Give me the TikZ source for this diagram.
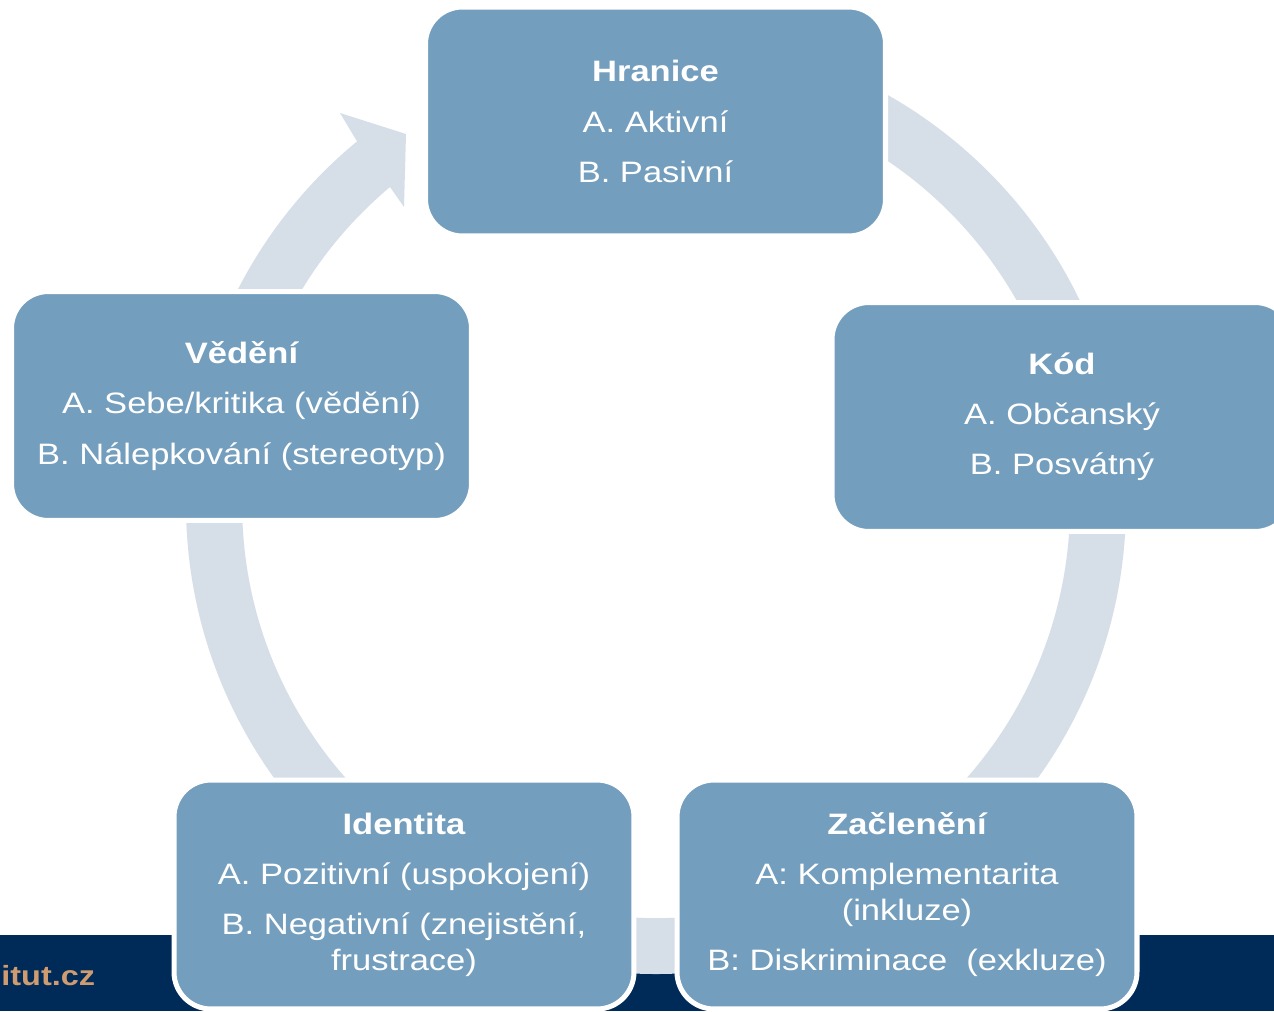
\documentclass[tikz,border=0pt]{standalone}
\usepackage{fontspec}
\setmainfont{Liberation Sans}[FakeStretch=1.17]

\definecolor{boxblue}{RGB}{116,158,189}
\definecolor{ringgrey}{RGB}{214,223,232}
\definecolor{navy}{RGB}{0,42,88}
\definecolor{urltan}{RGB}{206,156,112}

\begin{document}
\begin{tikzpicture}[x=0.02cm, y=-0.02cm]

  \tikzstyle{stage}=[rounded corners=21pt, fill=boxblue, draw=white, line width=2.85pt,
    text=white, align=center, inner sep=0pt, minimum width=261.8pt, minimum height=130.3pt,
    font=\fontsize{16.8}{20.5}\selectfont]
  \edef\gap{8pt}

  \fill[white] (0,0) rectangle (1274,1011);
  \useasboundingbox (0,0) rectangle (1274,1011);

  % footer band
  \fill[navy] (0,935) rectangle (1274,1011);
  \node[anchor=west, inner sep=0pt, text=urltan, font=\bfseries\fontsize{15.8}{18}\selectfont] (url) at (1,976) {itut.cz};

  % cycle ring with arrow head
  \coordinate (ctr) at (656,504);
  \pgfmathsetmacro{\rout}{470}
  \pgfmathsetmacro{\rin}{414}
  \fill[ringgrey] (ctr) ++(-90:\rout) arc[start angle=-90, end angle=230.5, radius=\rout]
    -- (340,113) -- (406,134) -- (404,207) -- (390,187)
    arc[start angle=230, end angle=-90, radius=\rin] -- cycle;

  % stages
  \node[stage] (hranice) at (655.5,121.5) {{\bfseries Hranice}\\[\gap]A. Aktivní\\[\gap]B. Pasivní};
  \node[stage] (kod) at (1062,417) {{\bfseries Kód}\\[\gap]A. Občanský\\[\gap]B. Posvátný};
  \node[stage] (zacleneni) at (907,894.5) {{\bfseries Začlenění}\\[\gap]A: Komplementarita\\(inkluze)\\[\gap]B: Diskriminace~ (exkluze)};
  \node[stage] (identita) at (404,894.5) {{\bfseries Identita}\\[\gap]A. Pozitivní (uspokojení)\\[\gap]B. Negativní (znejistění,\\frustrace)};
  \node[stage] (vedeni) at (241.5,406) {{\bfseries Vědění}\\[\gap]A. Sebe/kritika (vědění)\\[\gap]B. Nálepkování (stereotyp)};
\end{tikzpicture}
\end{document}
